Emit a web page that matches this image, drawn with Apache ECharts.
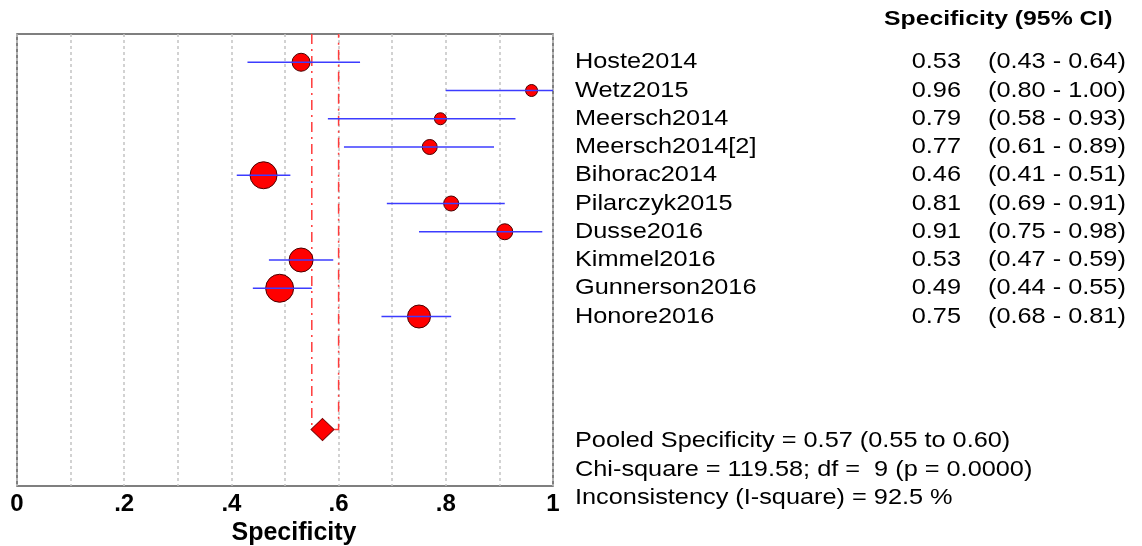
<!DOCTYPE html>
<html>
<head>
<meta charset="utf-8">
<script src="https://cdn.jsdelivr.net/npm/echarts@6/dist/echarts.min.js"></script>
<style>
html,body{margin:0;padding:0;background:#fff;}
#main{width:1142px;height:546px;}
</style>
</head>
<body>
<div id="main"></div>
<script>
// ---- data ----
const studies = ['Hoste2014','Wetz2015','Meersch2014','Meersch2014[2]','Bihorac2014','Pilarczyk2015','Dusse2016','Kimmel2016','Gunnerson2016','Honore2016'];
const spec    = [0.53, 0.96, 0.79, 0.77, 0.46, 0.81, 0.91, 0.53, 0.49, 0.75];
const ciLow   = [0.43, 0.80, 0.58, 0.61, 0.41, 0.69, 0.75, 0.47, 0.44, 0.68];
const ciHigh  = [0.64, 1.00, 0.93, 0.89, 0.51, 0.91, 0.98, 0.59, 0.55, 0.81];
const markerSize = [18, 12, 12, 15, 27, 15, 16, 24, 28, 23];
const pooledSpec = 0.57, pooledLow = 0.55, pooledHigh = 0.60;
const pooledRow = 14;
const tickLabels = {0:'0', 2:'.2', 4:'.4', 6:'.6', 8:'.8', 10:'1'};
const headerText = 'Specificity (95% CI)';
const footerLines = [
  'Pooled Specificity = 0.57 (0.55 to 0.60)',
  'Chi-square = 119.58; df =  9 (p = 0.0000)',
  'Inconsistency (I-square) = 92.5 %'
];

const FONT = "'Liberation Sans', Arial, sans-serif";
const SX = 1.15;

const chart = echarts.init(document.getElementById('main'));

const ciData = studies.map((s, i) => [ciLow[i], ciHigh[i], i + 1]);
const ptData = studies.map((s, i) => [spec[i], i + 1, markerSize[i]]);
const lblData = studies.map((s, i) => [0, i + 1, s, spec[i].toFixed(2), '(' + ciLow[i].toFixed(2) + ' - ' + ciHigh[i].toFixed(2) + ')']);

const option = {
  animation: false,
  backgroundColor: '#fff',
  grid: {left: 17, top: 34, width: 536, height: 452, show: true, borderColor: '#555', borderWidth: 1.5,
         backgroundColor: 'transparent', outerBoundsMode: 'none', containLabel: false},
  xAxis: {
    type: 'value', min: 0, max: 1, interval: 0.1,
    axisLine: {show: false}, axisTick: {show: false},
    splitLine: {show: true, lineStyle: {color: '#c4c4c4', type: [3, 3], width: 1.5}},
    axisLabel: {
      margin: 6, color: '#000', fontWeight: 'bold', fontSize: 24, fontFamily: FONT,
      formatter: v => { const k = Math.round(v * 10); return tickLabels[k] !== undefined ? tickLabels[k] : ''; }
    },
    name: 'Specificity', nameLocation: 'middle', nameGap: 28,
    nameTextStyle: {color: '#000', fontWeight: 'bold', fontSize: 25, fontFamily: FONT, padding: [0, 0, 0, 18]}
  },
  yAxis: {
    type: 'value', min: 0, max: 16, inverse: true, show: false,
    splitLine: {show: false}
  },
  series: [
    {
      type: 'custom', name: 'pooledCI', z: 1,
      data: [[pooledLow, pooledHigh, pooledRow]],
      encode: {x: [0, 1], y: 2},
      renderItem: (params, api) => {
        const a = api.coord([api.value(0), 0]);
        const b = api.coord([api.value(0), api.value(2)]);
        const c = api.coord([api.value(1), api.value(2)]);
        const d = api.coord([api.value(1), 0]);
        return {type: 'polyline', shape: {points: [a, b, c, d]},
          style: {stroke: '#ff3b3b', lineWidth: 1.5, fill: null, lineDash: [10, 5, 2, 5]}};
      }
    },
    {
      type: 'scatter', name: 'points', z: 2,
      data: ptData,
      symbol: 'circle',
      symbolSize: d => d[2],
      itemStyle: {color: '#ff0000', borderColor: '#4a0000', borderWidth: 1, opacity: 1}
    },
    {
      type: 'custom', name: 'ci', z: 3,
      data: ciData,
      encode: {x: [0, 1], y: 2},
      renderItem: (params, api) => {
        const p1 = api.coord([api.value(0), api.value(2)]);
        const p2 = api.coord([api.value(1), api.value(2)]);
        return {type: 'line', shape: {x1: p1[0], y1: p1[1], x2: p2[0], y2: p2[1]},
          style: {stroke: '#3c3cff', lineWidth: 1.6}};
      }
    },
    {
      type: 'scatter', name: 'pooled', z: 4,
      data: [[pooledSpec, pooledRow]],
      symbol: 'diamond', symbolSize: [23, 22],
      itemStyle: {color: '#ff0000', borderColor: '#7a0000', borderWidth: 1, opacity: 1}
    },
    {
      type: 'custom', name: 'labels', z: 5,
      data: lblData,
      encode: {x: 0, y: 1},
      renderItem: (params, api) => {
        const y = api.coord([0, api.value(1)])[1];
        const i = params.dataIndex;
        const row = lblData[i];
        const mk = (x, txt, align) => ({
          type: 'text', x: x, y: y, scaleX: SX,
          style: {text: txt, x: 0, y: 0, fill: '#000', font: '22px ' + FONT, align: align, verticalAlign: 'middle'}
        });
        return {type: 'group', children: [
          mk(575, row[2], 'left'),
          mk(961, row[3], 'right'),
          mk(988, row[4], 'left')
        ]};
      }
    }
  ],
  graphic: [
    {type: 'text', x: 884, y: 19, scaleX: 1.18,
      style: {text: headerText, x: 0, y: 0, fill: '#000', font: 'bold 21px ' + FONT, verticalAlign: 'middle'}},
    ...footerLines.map((t, k) => ({
      type: 'text', x: 575, y: 441 + k * 28.5, scaleX: SX,
      style: {text: t, x: 0, y: 0, fill: '#000', font: '22px ' + FONT, verticalAlign: 'middle'}
    }))
  ]
};
chart.setOption(option);
</script>
</body>
</html>
